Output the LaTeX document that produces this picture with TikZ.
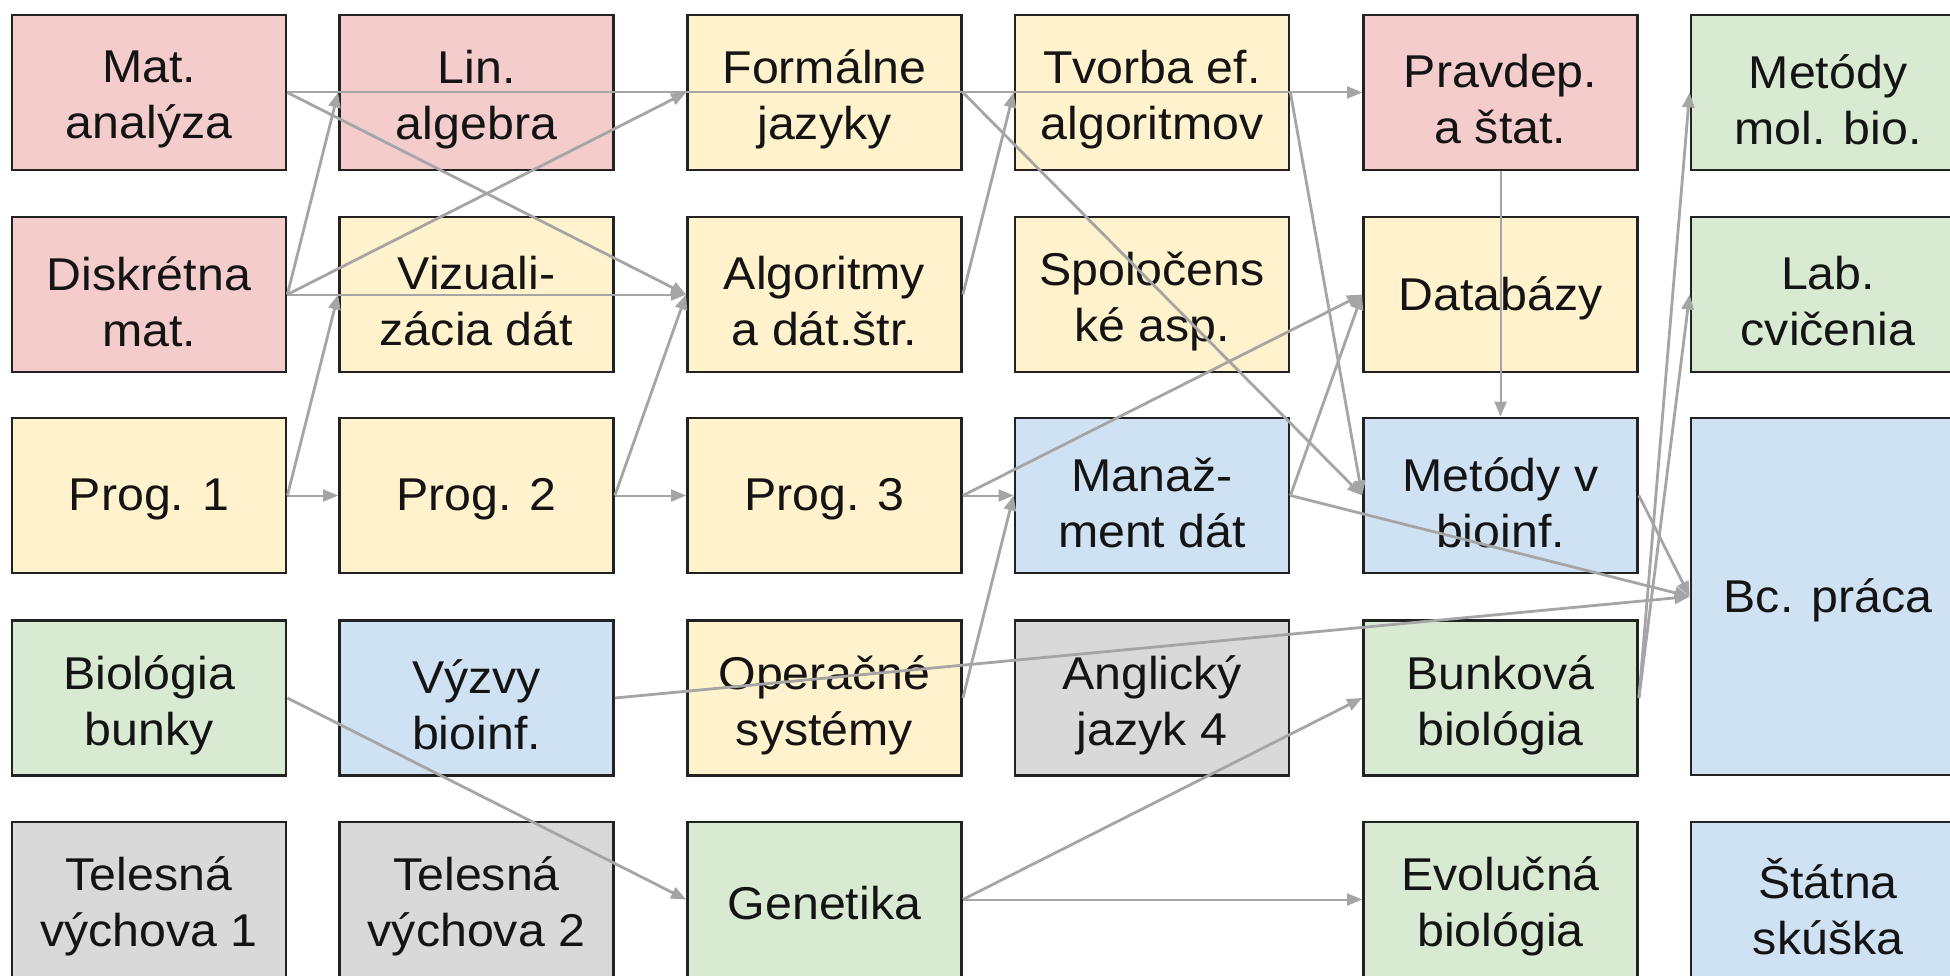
\documentclass[tikz,border=0pt]{standalone}
\usepackage{fontspec}
\setmainfont[FakeStretch=1.05]{Liberation Sans}
\usetikzlibrary{arrows.meta}
\definecolor{cred}{HTML}{F4CCCC}
\definecolor{cyel}{HTML}{FFF2CC}
\definecolor{cgrn}{HTML}{D9EAD3}
\definecolor{cblu}{HTML}{CFE2F3}
\definecolor{cgry}{HTML}{D9D9D9}
\definecolor{lcol}{HTML}{A5A5A5}
\definecolor{bord}{HTML}{222222}
\definecolor{tcol}{HTML}{141414}
\tikzset{
  box/.style={draw=bord, line width=2.8pt, minimum width=274pt, minimum height=155pt,
    inner sep=0pt},
  lab/.style={align=center, text=tcol, font=\fontsize{46}{56}\selectfont, inner sep=0pt, yshift=-7pt},
  labone/.style={lab, yshift=3pt},
  rbox/.style={box, fill=cred},
  ybox/.style={box, fill=cyel},
  gbox/.style={box, fill=cgrn},
  bbox/.style={box, fill=cblu},
  kbox/.style={box, fill=cgry},
  arr/.style={draw=lcol, line width=2.8pt, -{Triangle[length=15pt,width=12pt]}},
  arrthin/.style={arr, line width=2pt}
}
\begin{document}
\begin{tikzpicture}[x=1pt,y=-1pt]
\useasboundingbox (0,0) rectangle (1950,976);
\clip (0,0) rectangle (1950,976);
\fill[white] (0,0) rectangle (1950,976);
% row 1
\node[rbox, label={[lab]center:{Mat.\\analýza}}] (mat)  at (149,92.5) {};
\node[rbox, label={[lab]center:{Lin.\\algebra}}] (lin)  at (476.5,92.5) {};
\node[ybox, label={[lab]center:{Formálne\\jazyky}}] (form) at (824.5,92.5) {};
\node[ybox, label={[lab]center:{Tvorba ef.\\algoritmov}}] (tvor) at (1152,92.5) {};
\node[rbox, label={[lab]center:{Pravdep.\\a štat.}}] (prav) at (1500.5,92.5) {};
\node[gbox, label={[lab]center:{Metódy\\mol. bio.}}] (molb) at (1828,92.5) {};
% row 2
\node[rbox, label={[lab]center:{Diskrétna\\mat.}}] (disk) at (149,294.5) {};
\node[ybox, label={[lab]center:{Vizuali-\\zácia dát}}] (viz)  at (476.5,294.5) {};
\node[ybox, label={[lab]center:{Algoritmy\\a dát.štr.}}] (alg)  at (824.5,294.5) {};
\node[ybox, label={[lab]center:{Spoločens\\ké asp.}}] (spol) at (1152,294.5) {};
\node[ybox, label={[labone]center:{Databázy}}] (db)   at (1500.5,294.5) {};
\node[gbox, label={[lab]center:{Lab.\\cvičenia}}] (lab)  at (1828,294.5) {};
% row 3
\node[ybox, label={[labone]center:{Prog. 1}}] (pa)   at (149,495.5) {};
\node[ybox, label={[labone]center:{Prog. 2}}] (pb)   at (476.5,495.5) {};
\node[ybox, label={[labone]center:{Prog. 3}}] (pc)   at (824.5,495.5) {};
\node[bbox, label={[lab]center:{Manaž-\\ment dát}}] (man)  at (1152,495.5) {};
\node[bbox, label={[lab]center:{Metódy v\\bioinf.}}] (metv) at (1500.5,495.5) {};
\node[bbox, minimum height=357pt, label={[labone]center:{Bc. práca}}] (bc) at (1828,596.5) {};
% row 4
\node[gbox, label={[lab]center:{Biológia\\bunky}}] (biob) at (149,698) {};
\node[bbox, label={[lab]center:{Výzvy\\bioinf.}}] (vyz)  at (476.5,698) {};
\node[ybox, label={[lab]center:{Operačné\\systémy}}] (os)   at (824.5,698) {};
\node[kbox, label={[lab]center:{Anglický\\jazyk 4}}] (angl) at (1152,698) {};
\node[gbox, label={[lab]center:{Bunková\\biológia}}] (bunk) at (1500.5,698) {};
% row 5
\node[kbox, label={[lab]center:{Telesná\\výchova 1}}] (tv1)  at (149,899.5) {};
\node[kbox, label={[lab]center:{Telesná\\výchova 2}}] (tv2)  at (476.5,899.5) {};
\node[gbox, label={[labone]center:{Genetika}}] (gen)  at (824.5,899.5) {};
\node[gbox, label={[lab]center:{Evolučná\\biológia}}] (evol) at (1500.5,899.5) {};
\node[bbox, label={[lab]center:{Štátna\\skúška}}] (stat) at (1828,899.5) {};
% connectors
\draw[arrthin] (mat.east) -- (prav.west);
\draw[arr] (mat.east) -- (alg.west);
\draw[arr] (disk.east) -- (lin.west);
\draw[arr] (disk.east) -- (form.west);
\draw[arrthin] (disk.east) -- (alg.west);
\draw[arr] (pa.east) -- (viz.west);
\draw[arrthin] (pa.east) -- (pb.west);
\draw[arr] (pb.east) -- (alg.west);
\draw[arrthin] (pb.east) -- (pc.west);
\draw[arr] (alg.east) -- (tvor.west);
\draw[arr] (form.east) -- (metv.west);
\draw[arr] (tvor.east) -- (metv.west);
\draw[arrthin] (prav.south) -- (metv.north);
\draw[arrthin] (pc.east) -- (man.west);
\draw[arr] (pc.east) -- (db.west);
\draw[arr] (os.east) -- (man.west);
\draw[arr] (man.east) -- (db.west);
\draw[arr] (man.east) -- (bc.west);
\draw[arr] (metv.east) -- (bc.west);
\draw[arr] (vyz.east) -- (bc.west);
\draw[arr] (bunk.east) -- (molb.west);
\draw[arr] (bunk.east) -- (lab.west);
\draw[arr] (gen.east) -- (bunk.west);
\draw[arrthin] (gen.east) -- (evol.west);
\draw[arr] (biob.east) -- (gen.west);
\end{tikzpicture}
\end{document}
